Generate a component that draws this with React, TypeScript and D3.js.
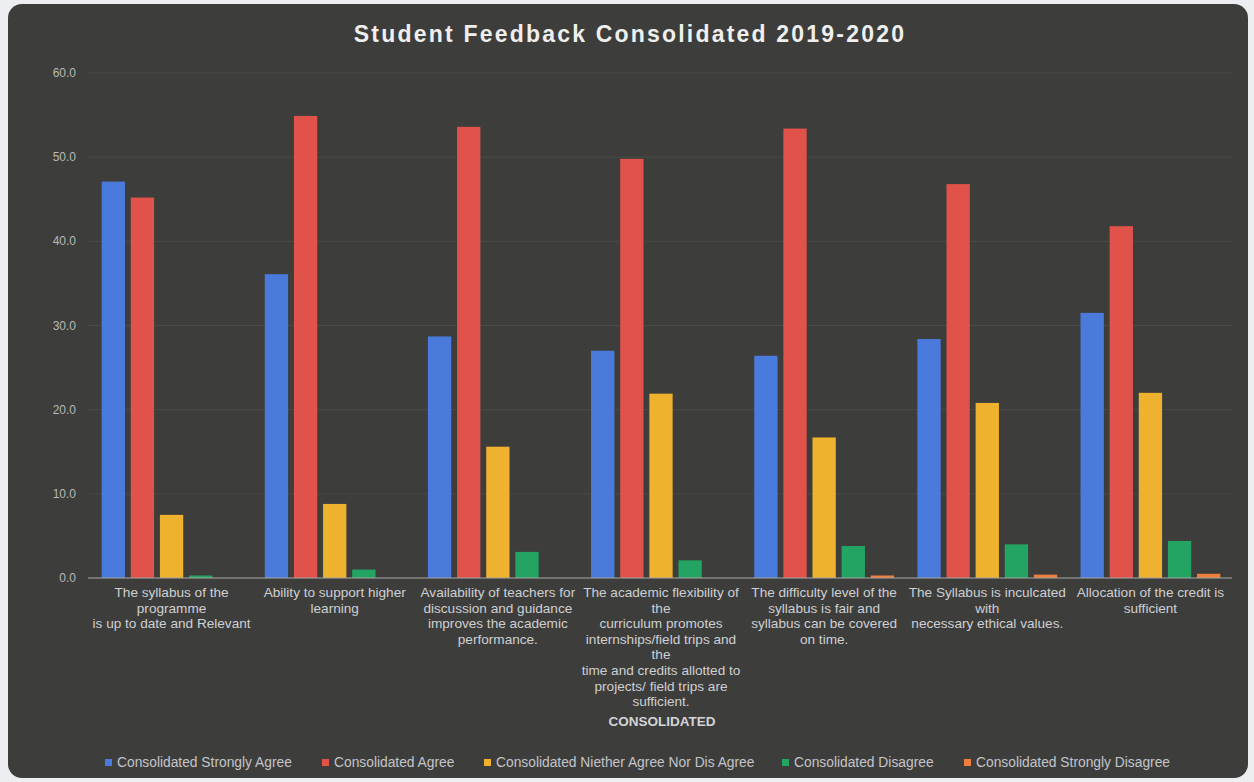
import React from "react";
import * as d3 from "d3";

const categories: string[][] = [
  ["The syllabus of the", "programme", "is up to date and Relevant"],
  ["Ability to support higher", "learning"],
  ["Availability of teachers for", "discussion and guidance", "improves the academic", "performance."],
  ["The academic flexibility of", "the", "curriculum promotes", "internships/field trips and", "the", "time and credits allotted to", "projects/ field trips are", "sufficient."],
  ["The difficulty level of the", "syllabus is fair and", "syllabus can be covered", "on time."],
  ["The Syllabus is inculcated", "with", "necessary ethical values."],
  ["Allocation of the credit is", "sufficient"],
];

const seriesNames = [
  "Consolidated Strongly Agree",
  "Consolidated Agree",
  "Consolidated Niether Agree Nor Dis Agree",
  "Consolidated Disagree",
  "Consolidated Strongly Disagree",
];

const stronglyAgree = [47.1, 36.1, 28.7, 27.0, 26.4, 28.4, 31.5];
const agree = [45.2, 54.9, 53.6, 49.8, 53.4, 46.8, 41.8];
const neither = [7.5, 8.8, 15.6, 21.9, 16.7, 20.8, 22.0];
const disagree = [0.3, 1.0, 3.1, 2.1, 3.8, 4.0, 4.4];
const stronglyDisagree = [0.0, 0.0, 0.0, 0.0, 0.3, 0.4, 0.5];

const yTicks = [0, 10, 20, 30, 40, 50, 60];

const colors = ["#4a7bdc", "#e0524a", "#efb22e", "#24a463", "#ef7d3c"];

const legendSq = [105, 322, 484, 782, 964];

export default function App() {
  const W = 1254, H = 782;
  const series = [stronglyAgree, agree, neither, disagree, stronglyDisagree];
  const idx = categories.map((_, i) => i);
  const x0 = d3.scaleBand<number>().domain(idx).range([90, 1232]).padding(0);
  const x1 = d3.scaleBand<number>().domain([0, 1, 2, 3, 4]).range([0, x0.bandwidth()]).paddingInner(0.2).paddingOuter(0.4);
  const y = d3.scaleLinear().domain([0, 60]).range([578, 73]);
  const font = "'Liberation Sans', Arial, sans-serif";

  return (
    <div style={{ position: "absolute", left: 0, top: 0 }}>
      <svg width={W} height={H} style={{ display: "block" }}>
        <rect x={0} y={0} width={W} height={H} fill="#eceef2" />
        <rect x={8} y={4} width={1240} height={774} rx={14} fill="#3d3e3b" />
        <text x={630} y={42} textAnchor="middle" fontFamily={font} fontWeight="bold" fontSize={23} letterSpacing={2.2} fill="#efefef">
          Student Feedback Consolidated 2019-2020
        </text>
        {yTicks.map((t) => (
          <g key={t}>
            {t > 0 && <line x1={88} x2={1232} y1={y(t)} y2={y(t)} stroke="#4a4b48" strokeWidth={1} />}
            <text x={76} y={y(t) + 4} textAnchor="end" fontFamily={font} fontSize={12} fill="#b8b8b8">
              {t.toFixed(1)}
            </text>
          </g>
        ))}
        {idx.map((ci) => (
          <g key={ci} transform={`translate(${x0(ci)},0)`}>
            {series.map((s, si) => (
              <rect key={si} x={x1(si)} y={y(s[ci])} width={x1.bandwidth()} height={y(0) - y(s[ci])} fill={colors[si]} />
            ))}
          </g>
        ))}
        <line x1={88} x2={1232} y1={y(0)} y2={y(0)} stroke="#a8a8a8" strokeWidth={1.2} />
        {idx.map((ci) => (
          <text key={ci} textAnchor="middle" fontFamily={font} fontSize={13.6} fill="#cfcfd4">
            {categories[ci].map((ln, li) => (
              <tspan key={li} x={(x0(ci) as number) + x0.bandwidth() / 2} y={597 + li * 15.6}>{ln}</tspan>
            ))}
          </text>
        ))}
        <text x={662} y={726} textAnchor="middle" fontFamily={font} fontWeight="bold" fontSize={13.5} fill="#d4d4d8">CONSOLIDATED</text>
        {seriesNames.map((n, i) => (
          <g key={n}>
            <rect x={legendSq[i]} y={759} width={7} height={7} fill={colors[i]} />
            <text x={legendSq[i] + 12} y={767} fontFamily={font} fontSize={13.8} fill="#c4c4ca">{n}</text>
          </g>
        ))}
      </svg>
    </div>
  );
}
